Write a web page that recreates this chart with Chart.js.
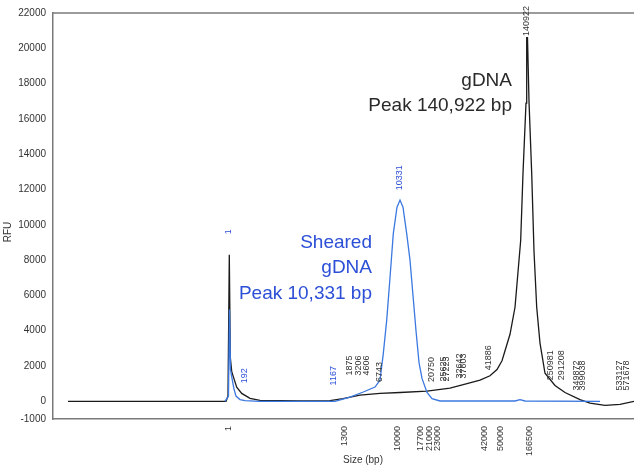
<!DOCTYPE html>
<html>
<head>
<meta charset="utf-8">
<script src="https://cdn.jsdelivr.net/npm/chart.js@4.4.1/dist/chart.umd.min.js"></script>
<style>
  html, body { margin: 0; padding: 0; background: #fff; }
  #wrap { width: 634px; height: 469px; position: relative; }
</style>
</head>
<body>
<div id="wrap"><canvas id="chart"></canvas></div>
<script>
// x is migration position (arbitrary units), size ladder ticks sit at fixed positions
const sizeTickPos = [17.53, 29.2, 34.47, 36.8, 37.63, 38.47, 43.13, 44.8, 47.7];
const sizeTickLabels = ["1", "1300", "10000", "17700", "21000", "23000", "42000", "50000", "166500"];
const rfuTicks = [-1000, 0, 2000, 4000, 6000, 8000, 10000, 12000, 14000, 16000, 18000, 20000, 22000];

// gDNA trace (black)
const gdnaX = [1.5, 6.7, 17.3, 17.5, 17.63, 17.73, 17.87, 18.03, 18.37, 18.87, 19.7, 20.7, 24.7, 27.7, 29.0,
  30.7, 32.7, 34.7, 37.4, 39.7, 41.4, 42.7, 43.7, 44.4, 44.9, 45.7, 46.2, 46.77, 47.0, 47.3, 47.37, 47.45,
  47.6, 47.87, 48.1, 48.37, 48.7, 49.2, 50.2, 51.2, 52.7, 53.7, 55.2, 56.7, 58.1];
const gdnaY = [0, 0, 0, 300, 8300, 2500, 1700, 1400, 800, 450, 170, 60, 30, 40, 150,
  350, 450, 500, 580, 750, 1000, 1200, 1450, 1800, 2300, 3800, 5330, 9130, 12930, 16900, 20600, 20600,
  17000, 12930, 8500, 5330, 3300, 1590, 900, 500, 100, -100, -230, -170, 0];

// sheared gDNA trace (blue)
const shearedX = [17.2, 17.55, 17.65, 17.75, 17.9, 18.1, 18.3, 18.7, 19.2, 20.7, 28.2, 29.7, 31.03, 32.2, 32.7,
  33.03, 33.37, 33.7, 34.03, 34.4, 34.7, 35.0, 35.37, 35.7, 36.0, 36.3, 36.6, 36.9, 37.4, 37.9, 38.7,
  46.2, 46.7, 47.2, 54.7];
const shearedY = [0, 300, 5200, 1800, 1300, 700, 300, 100, 40, 0, 0, 240, 530, 810, 1200,
  2700, 4590, 7000, 9500, 11000, 11400, 11000, 9500, 8000, 6000, 4000, 2200, 1300, 500, 150, 20,
  20, 100, 20, 0];

// peak call labels: text, position, height (RFU) where the label starts
const blueCalls = ["1", "192", "1167", "10331"];
const blueCallX = [17.6, 19.2, 28.03, 34.7];
const blueCallY = [9470, 1020, 900, 11960];
const blackCalls = ["1875", "3206", "4606", "6743", "20750", "25625", "27223", "32642", "37603", "41886",
  "140922", "250981", "291208", "349872", "399038", "533127", "571678"];
const blackCallX = [29.63, 30.53, 31.37, 32.7, 37.87, 39.03, 39.37, 40.7, 41.03, 43.53,
  47.37, 49.8, 50.9, 52.37, 52.97, 56.7, 57.37];
const blackCallY = [1470, 1470, 1470, 1100, 1100, 1130, 1130, 1300, 1300, 1760,
  20700, 1190, 1190, 620, 620, 620, 620];

const blueColor = "#3b78e0";
const blueText = "#2b4fd6";
const darkText = "#2a2a2a";
const fontFam = "'Liberation Sans', Arial, sans-serif";

function toPoints(xs, ys) {
  return xs.map((x, i) => ({ x: x, y: ys[i] }));
}

const annotate = {
  id: "annotate",
  afterDatasetsDraw(chart) {
    const ctx = chart.ctx;
    const xs = chart.scales.x;
    const ys = chart.scales.y;
    const area = chart.chartArea;

    // top frame line
    ctx.save();
    ctx.strokeStyle = "#7a7a7a";
    ctx.lineWidth = 1.5;
    ctx.beginPath();
    ctx.moveTo(area.left, area.top);
    ctx.lineTo(area.right, area.top);
    ctx.stroke();
    ctx.restore();

    function calls(texts, px, py, color) {
      ctx.save();
      ctx.font = "9px " + fontFam;
      ctx.fillStyle = color;
      ctx.textAlign = "left";
      ctx.textBaseline = "middle";
      for (let i = 0; i < texts.length; i++) {
        ctx.save();
        ctx.translate(xs.getPixelForValue(px[i]), ys.getPixelForValue(py[i]));
        ctx.rotate(-Math.PI / 2);
        ctx.fillText(texts[i], 0, 0);
        ctx.restore();
      }
      ctx.restore();
    }
    calls(blackCalls, blackCallX, blackCallY, "#333");
    calls(blueCalls, blueCallX, blueCallY, blueText);

    // big annotations
    ctx.save();
    ctx.font = "19px " + fontFam;
    ctx.textAlign = "right";
    ctx.textBaseline = "middle";
    ctx.fillStyle = darkText;
    let rx = xs.getPixelForValue(45.9);
    ctx.fillText("gDNA", rx, ys.getPixelForValue(18140));
    ctx.fillText("Peak 140,922 bp", rx, ys.getPixelForValue(16720));
    ctx.fillStyle = blueText;
    rx = xs.getPixelForValue(31.9);
    ctx.fillText("Sheared", rx, ys.getPixelForValue(8960));
    ctx.fillText("gDNA", rx, ys.getPixelForValue(7540));
    ctx.fillText("Peak 10,331 bp", rx, ys.getPixelForValue(6070));
    ctx.restore();

    // axis titles
    ctx.save();
    ctx.font = "10px " + fontFam;
    ctx.fillStyle = "#333";
    ctx.textAlign = "center";
    ctx.textBaseline = "middle";
    ctx.fillText("Size (bp)", 363, 460);
    ctx.translate(8, 232);
    ctx.rotate(-Math.PI / 2);
    ctx.fillText("RFU", 0, 0);
    ctx.restore();
  }
};

new Chart(document.getElementById("chart"), {
  type: "line",
  data: {
    datasets: [
      {
        label: "Sheared gDNA",
        data: toPoints(shearedX, shearedY),
        borderColor: blueColor,
        borderWidth: 1.3,
        pointRadius: 0,
        tension: 0,
        order: 0
      },
      {
        label: "gDNA",
        data: toPoints(gdnaX, gdnaY),
        borderColor: "#1a1a1a",
        borderWidth: 1.3,
        pointRadius: 0,
        tension: 0,
        order: 1
      }
    ]
  },
  options: {
    responsive: true,
    maintainAspectRatio: false,
    animation: false,
    layout: { padding: { top: 13, right: 0, left: 0, bottom: 0 } },
    plugins: { legend: { display: false }, tooltip: { enabled: false } },
    scales: {
      x: {
        type: "linear",
        min: 0,
        max: 58.1,
        afterBuildTicks: (axis) => { axis.ticks = sizeTickPos.map((v) => ({ value: v })); },
        afterFit: (axis) => { axis.height = 50; },
        grid: { display: false, drawTicks: true, tickLength: 5, tickColor: "#777" },
        border: { color: "#7a7a7a", width: 1.5 },
        ticks: {
          autoSkip: false,
          minRotation: 90,
          maxRotation: 90,
          padding: 2,
          color: "#333",
          font: { size: 9, family: fontFam },
          callback: (v) => {
            const i = sizeTickPos.indexOf(v);
            return i >= 0 ? sizeTickLabels[i] : "";
          }
        }
      },
      y: {
        min: -1000,
        max: 22000,
        afterBuildTicks: (axis) => { axis.ticks = rfuTicks.map((v) => ({ value: v })); },
        afterFit: (axis) => { axis.width = 53; },
        grid: { display: false, drawTicks: true, tickLength: 5, tickColor: "#777" },
        border: { color: "#7a7a7a", width: 1.5 },
        ticks: {
          padding: 2,
          color: "#333",
          font: { size: 10, family: fontFam },
          callback: (v) => String(v)
        }
      }
    }
  },
  plugins: [annotate]
});
</script>
</body>
</html>
